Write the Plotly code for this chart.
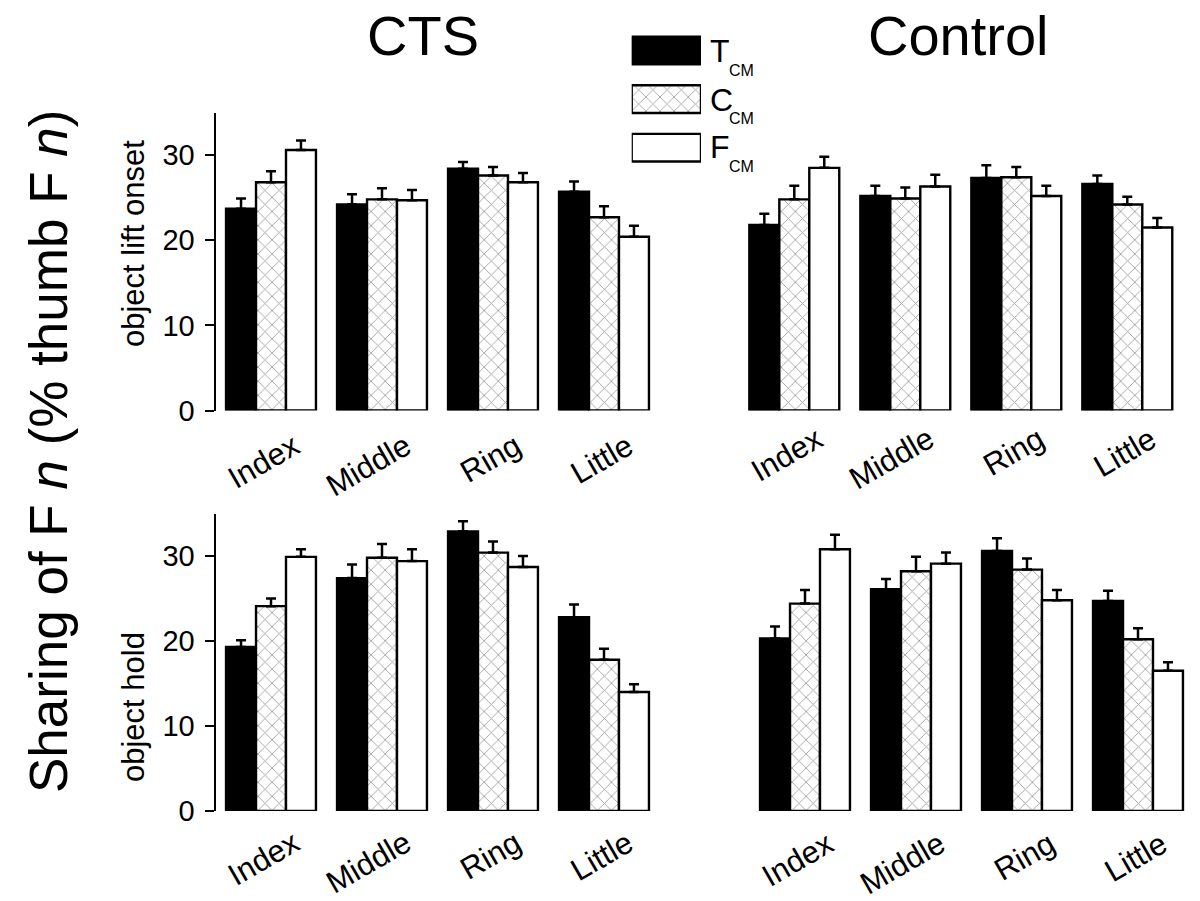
import plotly.graph_objects as go

# ---------------- data ----------------
categories = ["Index", "Middle", "Ring", "Little"]
series_names = ["T", "C", "F"]
series_sub = "CM"
tick_vals = [0, 10, 20, 30]
tick_text = ["0", "10", "20", "30"]
group_titles = ["CTS", "Control"]
row_titles = ["object lift onset", "object hold"]

# CTS - object lift onset
cts_lift_T = [23.7, 24.2, 28.4, 25.7]
cts_lift_T_err = [1.2, 1.2, 0.8, 1.2]
cts_lift_C = [26.8, 24.8, 27.6, 22.7]
cts_lift_C_err = [1.3, 1.3, 1.0, 1.3]
cts_lift_F = [30.6, 24.7, 26.8, 20.4]
cts_lift_F_err = [1.1, 1.2, 1.1, 1.3]

# Control - object lift onset
ctl_lift_T = [21.8, 25.2, 27.3, 26.6]
ctl_lift_T_err = [1.3, 1.2, 1.5, 1.0]
ctl_lift_C = [24.8, 24.9, 27.4, 24.2]
ctl_lift_C_err = [1.6, 1.3, 1.2, 0.9]
ctl_lift_F = [28.5, 26.3, 25.2, 21.5]
ctl_lift_F_err = [1.3, 1.4, 1.2, 1.1]

# CTS - object hold
cts_hold_T = [19.3, 27.4, 32.9, 22.8]
cts_hold_T_err = [0.8, 1.6, 1.2, 1.5]
cts_hold_C = [24.1, 29.8, 30.4, 17.8]
cts_hold_C_err = [0.9, 1.6, 1.3, 1.3]
cts_hold_F = [29.9, 29.4, 28.7, 14.0]
cts_hold_F_err = [0.9, 1.4, 1.3, 0.9]

# Control - object hold
ctl_hold_T = [20.3, 26.1, 30.6, 24.7]
ctl_hold_T_err = [1.4, 1.2, 1.5, 1.2]
ctl_hold_C = [24.4, 28.2, 28.4, 20.2]
ctl_hold_C_err = [1.6, 1.7, 1.3, 1.3]
ctl_hold_F = [30.8, 29.1, 24.8, 16.5]
ctl_hold_F_err = [1.7, 1.3, 1.2, 1.0]

# ---------------- layout helpers ----------------
W, H = 1200, 901
FONT = "Liberation Sans, Arial, sans-serif"


def px_x(p):
    return p / W


def px_y(p):
    return 1 - p / H


HATCH = dict(shape="x", fgcolor="#404040", bgcolor="white", size=10, solidity=0.17)
styles = {
    "T": dict(color="black", pattern=dict(shape="")),
    "C": dict(color="white", pattern=HATCH),
    "F": dict(color="white", pattern=dict(shape="")),
}

panels = [
    ("", [(cts_lift_T, cts_lift_T_err), (cts_lift_C, cts_lift_C_err), (cts_lift_F, cts_lift_F_err)]),
    ("2", [(ctl_lift_T, ctl_lift_T_err), (ctl_lift_C, ctl_lift_C_err), (ctl_lift_F, ctl_lift_F_err)]),
    ("3", [(cts_hold_T, cts_hold_T_err), (cts_hold_C, cts_hold_C_err), (cts_hold_F, cts_hold_F_err)]),
    ("4", [(ctl_hold_T, ctl_hold_T_err), (ctl_hold_C, ctl_hold_C_err), (ctl_hold_F, ctl_hold_F_err)]),
]

fig = go.Figure()

for suffix, series in panels:
    for name, (vals, errs) in zip(series_names, series):
        st = styles[name]
        fig.add_trace(go.Bar(
            x=categories, y=vals,
            xaxis="x" + suffix, yaxis="y" + suffix,
            name=name, showlegend=False,
            marker=dict(color=st["color"], pattern=st["pattern"],
                        line=dict(color="black", width=2.4)),
            error_y=dict(type="data", symmetric=False, array=errs,
                         arrayminus=[0] * len(errs),
                         color="black", thickness=2.5, width=5),
        ))

# legend swatches drawn as a tiny bar chart
fig.add_trace(go.Bar(
    y=[0, 1, 2], x=[1, 1, 1], orientation="h", width=0.57,
    xaxis="x5", yaxis="y5", showlegend=False, cliponaxis=False,
    marker=dict(color=[styles[n]["color"] for n in series_names],
                pattern=dict(shape=["", "x", ""], fgcolor="#404040", bgcolor="white",
                             size=10, solidity=0.17),
                line=dict(color="black", width=2.4)),
))

# domains (pixels)
left_top = (215.5, 659.5)
right_top = (738.8, 1182.8)
left_bot = (215.5, 659.5)
right_bot = (749.5, 1193.5)
top_y = (410.5, 112.5)
bot_y = (811, 513.5)

xdom = {"": left_top, "2": right_top, "3": left_bot, "4": right_bot}
ydom = {"": top_y, "2": top_y, "3": bot_y, "4": bot_y}

layout = dict(
    width=W, height=H,
    margin=dict(l=0, r=0, t=0, b=0, pad=0, autoexpand=False),
    paper_bgcolor="white", plot_bgcolor="white",
    barmode="group", bargap=0.19, bargroupgap=0,
    font=dict(family=FONT, color="black"),
    showlegend=False,
)

for s in ["", "2", "3", "4"]:
    xd = xdom[s]
    yd = ydom[s]
    left = s in ("", "3")
    layout["xaxis" + s] = dict(
        domain=[px_x(xd[0]), px_x(xd[1])], range=[-0.5, 3.5],
        anchor="y" + s, showline=False, showgrid=False, zeroline=False,
        showticklabels=False, ticks="", type="category", automargin=False,
    )
    layout["yaxis" + s] = dict(
        domain=[px_y(yd[0]), px_y(yd[1])], range=[0, 35],
        anchor="x" + s, showgrid=False, zeroline=False, automargin=False,
        showline=left, linecolor="black", linewidth=2,
        ticks="outside" if left else "", ticklen=9, tickwidth=2, tickcolor="black",
        tickvals=tick_vals, ticktext=tick_text, showticklabels=left,
        tickfont=dict(size=29, family=FONT, color="black"), ticklabelstandoff=4,
    )

layout["xaxis5"] = dict(domain=[px_x(631.7), px_x(701)], range=[0, 1], anchor="y5",
                        visible=False, automargin=False)
layout["yaxis5"] = dict(domain=[px_y(172), px_y(26.3)], range=[2.5, -0.5], anchor="x5",
                        visible=False, automargin=False)

fig.update_layout(**layout)

ann = []
for title, cx in zip(group_titles, [422.5, 958]):
    ann.append(dict(text=title, x=px_x(cx), y=px_y(35), xref="paper", yref="paper",
                    showarrow=False, font=dict(size=56, family=FONT),
                    xanchor="center", yanchor="middle"))

for title, cy in zip(row_titles, [244, 707]):
    ann.append(dict(text=title, x=px_x(133), y=px_y(cy), xref="paper", yref="paper",
                    showarrow=False, textangle=-90, font=dict(size=31, family=FONT),
                    xanchor="center", yanchor="middle"))

ann.append(dict(text="Sharing of F <i>n</i> (% thumb F <i>n</i>)", x=px_x(48), y=px_y(452),
                xref="paper", yref="paper", showarrow=False, textangle=-90,
                font=dict(size=53, family=FONT), xanchor="center", yanchor="middle"))

label_top = {"": 425, "2": 418, "3": 822, "4": 823}
for s in ["", "2", "3", "4"]:
    for c in categories:
        ann.append(dict(text=c, x=c, xref="x" + s, y=px_y(label_top[s]), yref="paper",
                        showarrow=False, textangle=-30, font=dict(size=31, family=FONT),
                        xanchor="right", yanchor="top", xshift=37))

legend_centers = [51.5, 100, 147]
for name, cy in zip(series_names, legend_centers):
    ann.append(dict(text=name, x=px_x(708), y=px_y(cy), xref="paper", yref="paper",
                    showarrow=False, font=dict(size=32, family=FONT),
                    xanchor="left", yanchor="middle"))
    ann.append(dict(text=series_sub, x=px_x(727), y=px_y(cy + 19), xref="paper", yref="paper",
                    showarrow=False, font=dict(size=16, family=FONT),
                    xanchor="left", yanchor="middle"))

fig.update_layout(annotations=ann)

fig.write_html("out.html", config={"displayModeBar": False},
               post_script="document.body.style.margin='0';document.body.style.overflow='hidden';")
